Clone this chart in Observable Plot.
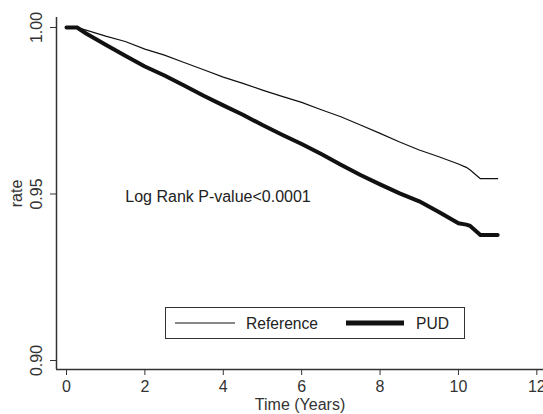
<!DOCTYPE html>
<html>
<head>
<meta charset="utf-8">
<script src="https://cdn.jsdelivr.net/npm/d3@7"></script>
<script src="https://cdn.jsdelivr.net/npm/@observablehq/plot@0.6"></script>
<style>
  html, body { margin: 0; padding: 0; background: white; }
  #chart { position: relative; width: 543px; height: 414px; }
</style>
</head>
<body>
<div id="chart"></div>
<script>
// ---- data ----
const years   = [0, 0.27, 0.5, 1, 1.5, 2, 2.5, 3, 3.5, 4, 4.5, 5, 5.5, 6, 6.5, 7, 7.5, 8, 8.5, 9, 9.5, 10, 10.2, 10.3, 10.56, 11];
const refRate = [1.0, 1.0, 0.9992, 0.9974, 0.9958, 0.9935, 0.9917, 0.9895, 0.9873, 0.9851, 0.9832, 0.9812, 0.9793, 0.9775, 0.9753, 0.9732, 0.9707, 0.9682, 0.9656, 0.9632, 0.9612, 0.9590, 0.9580, 0.9572, 0.9546, 0.9546];
const pudRate = [1.0, 1.0, 0.9982, 0.9948, 0.9915, 0.9883, 0.9856, 0.9826, 0.9795, 0.9766, 0.9738, 0.9707, 0.9678, 0.9650, 0.9620, 0.9588, 0.9557, 0.9529, 0.9502, 0.9478, 0.9446, 0.9412, 0.9408, 0.9404, 0.9377, 0.9377];
const seriesNames = ["Reference", "PUD"];
const xTicks = [0, 2, 4, 6, 8, 10, 12];
const yTicks = [0.90, 0.95, 1.00];
const xDomain = [-0.255, 12.17];
const yDomain = [0.8973, 1.003];
const annotation = {t: 1.5, rate: 0.9490, label: "Log Rank P-value<0.0001"};

const refData = years.map((t, i) => ({t, rate: refRate[i], group: seriesNames[0]}));
const pudData = years.map((t, i) => ({t, rate: pudRate[i], group: seriesNames[1]}));

const FONT = "'Liberation Sans', Arial, sans-serif";

const chart = Plot.plot({
  width: 543,
  height: 414,
  marginLeft: 56,
  marginRight: 0,
  marginTop: 17,
  marginBottom: 45,
  style: {fontFamily: FONT, fontSize: "16px", color: "#333", background: "white"},
  x: {domain: xDomain},
  y: {domain: yDomain},
  marks: [
    Plot.ruleX([xDomain[0]], {stroke: "#333", strokeWidth: 1.5}),
    Plot.ruleY([yDomain[0]], {stroke: "#333", strokeWidth: 1.5}),
    Plot.axisX({ticks: xTicks, tickSize: 6, tickPadding: 5, fontSize: 16, label: "Time (Years)", labelAnchor: "center", labelOffset: 40, labelArrow: "none"}),
    Plot.axisY({ticks: yTicks, tickFormat: d3.format(".2f"), tickSize: 6, tickPadding: 9, tickRotate: -90, fontSize: 16, label: "rate", labelAnchor: "center", labelOffset: 46, labelArrow: "none"}),
    Plot.line(refData, {x: "t", y: "rate", stroke: "#111", strokeWidth: 1.2}),
    Plot.line(pudData, {x: "t", y: "rate", stroke: "#111", strokeWidth: 4}),
    Plot.text([annotation], {x: "t", y: "rate", text: "label", textAnchor: "start", fontSize: 16, fill: "#222"})
  ]
});
document.getElementById("chart").appendChild(chart);

// ---- legend box inside the plot ----
const svg = d3.select(chart);
const lg = svg.append("g").attr("font-family", FONT).attr("font-size", 15.6).attr("text-anchor", "start");
lg.append("rect").attr("x", 165.5).attr("y", 307.5).attr("width", 299).attr("height", 31)
  .attr("fill", "white").attr("stroke", "#333").attr("stroke-width", 1);
lg.append("line").attr("x1", 175).attr("x2", 235).attr("y1", 323).attr("y2", 323).attr("stroke", "#111").attr("stroke-width", 1.2);
lg.append("text").attr("x", 246).attr("y", 328.5).attr("fill", "#222").text(seriesNames[0]);
lg.append("line").attr("x1", 346).attr("x2", 404).attr("y1", 323).attr("y2", 323).attr("stroke", "#111").attr("stroke-width", 5);
lg.append("text").attr("x", 416).attr("y", 328.5).attr("fill", "#222").text(seriesNames[1]);
</script>
</body>
</html>
